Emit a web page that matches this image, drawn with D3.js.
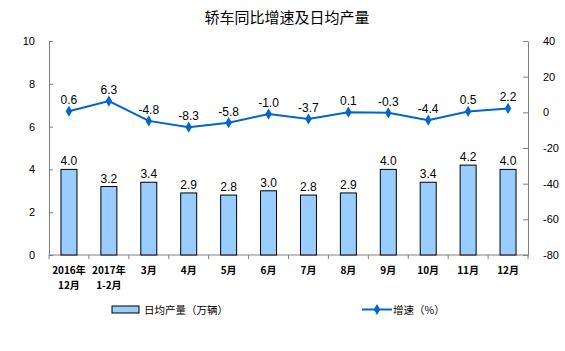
<!DOCTYPE html>
<html>
<head>
<meta charset="utf-8">
<script src="https://cdn.jsdelivr.net/npm/d3@7"></script>
<style>
  body { margin: 0; background: #fff; }
  text { font-family: "Liberation Sans", Arial, sans-serif; }
  .cjk { font-family: "Noto Sans CJK SC", sans-serif; }
</style>
</head>
<body>
<div id="chart"></div>
<script>
var width = 565;
var height = 351;

// data
var months = ["2016年|12月", "2017年|1-2月", "3月", "4月", "5月", "6月", "7月", "8月", "9月", "10月", "11月", "12月"];
var output = [4.0, 3.2, 3.4, 2.9, 2.8, 3.0, 2.8, 2.9, 4.0, 3.4, 4.2, 4.0];
var growth = [0.6, 6.3, -4.8, -8.3, -5.8, -1.0, -3.7, 0.1, -0.3, -4.4, 0.5, 2.2];
var leftTicks = [0, 2, 4, 6, 8, 10];
var rightTicks = [-80, -60, -40, -20, 0, 20, 40];

// plot box (window.top is read-only, so use other names)
var plotL = 49, plotR = 528, plotT = 41, plotB = 255;

var svg = d3.select("#chart")
    .append("svg")
    .attr("width", width)
    .attr("height", height);

var x = d3.scaleBand()
    .domain(d3.range(months.length))
    .range([plotL, plotR]);

var yL = d3.scaleLinear().domain([0, 10]).range([plotB, plotT]);
var yR = d3.scaleLinear().domain([-80, 40]).range([plotB, plotT]);

// plain hyphen minus, like the original
var plain = function(d){ return String(d); };

// title
svg.append("text")
    .attr("class", "cjk")
    .attr("x", 287)
    .attr("y", 23)
    .attr("text-anchor", "middle")
    .attr("font-size", 15)
    .attr("fill", "#000")
    .text("轿车同比增速及日均产量");

// left axis
var gl = svg.append("g")
    .attr("transform", "translate(" + plotL + ",0)")
    .call(d3.axisLeft(yL).tickValues(leftTicks).tickFormat(plain).tickSizeInner(-4).tickSizeOuter(0).tickPadding(14));
gl.select(".domain").attr("stroke", "#808080");
gl.selectAll(".tick line").attr("stroke", "#808080");
gl.selectAll(".tick text").attr("font-size", 11).attr("fill", "#000");

// right axis
var gr = svg.append("g")
    .attr("transform", "translate(" + plotR + ",0)")
    .call(d3.axisRight(yR).tickValues(rightTicks).tickFormat(plain).tickSizeInner(-5).tickSizeOuter(0).tickPadding(15));
gr.select(".domain").attr("stroke", "#808080");
gr.selectAll(".tick line").attr("stroke", "#808080");
gr.selectAll(".tick text").attr("font-size", 11).attr("fill", "#000");

// x axis baseline with boundary ticks
svg.append("line")
    .attr("x1", plotL).attr("x2", plotR)
    .attr("y1", plotB).attr("y2", plotB)
    .attr("stroke", "#808080");

svg.selectAll(".xtick")
    .data(d3.range(months.length + 1))
    .enter()
    .append("line")
    .attr("class", "xtick")
    .attr("x1", function(d){ return plotL + d * x.step(); })
    .attr("x2", function(d){ return plotL + d * x.step(); })
    .attr("y1", plotB)
    .attr("y2", plotB + 4)
    .attr("stroke", "#808080");

// x labels
var xl = svg.selectAll(".xlabel")
    .data(months)
    .enter()
    .append("text")
    .attr("class", "cjk")
    .attr("text-anchor", "middle")
    .attr("font-size", 10)
    .attr("font-weight", "bold")
    .attr("fill", "#000");
xl.each(function(d, i){
    var parts = d.split("|");
    var t = d3.select(this);
    parts.forEach(function(p, j){
        t.append("tspan")
            .attr("x", x(i) + x.bandwidth() / 2)
            .attr("y", 274 + j * 15)
            .text(p);
    });
});

// bars
var barW = 16;
svg.selectAll(".bar")
    .data(output)
    .enter()
    .append("rect")
    .attr("class", "bar")
    .attr("x", function(d, i){ return x(i) + x.bandwidth() / 2 - barW / 2; })
    .attr("y", function(d){ return yL(d); })
    .attr("width", barW)
    .attr("height", function(d){ return plotB - yL(d); })
    .attr("fill", "#99CCFF")
    .attr("stroke", "#000")
    .attr("stroke-width", 1);

svg.selectAll(".barlabel")
    .data(output)
    .enter()
    .append("text")
    .attr("x", function(d, i){ return x(i) + x.bandwidth() / 2; })
    .attr("y", function(d){ return yL(d) - 4; })
    .attr("text-anchor", "middle")
    .attr("font-size", 12)
    .attr("fill", "#000")
    .text(function(d){ return d.toFixed(1); });

// line
var line = d3.line()
    .x(function(d, i){ return x(i) + x.bandwidth() / 2; })
    .y(function(d){ return yR(d); });

svg.append("path")
    .datum(growth)
    .attr("d", line)
    .attr("fill", "none")
    .attr("stroke", "#0066CC")
    .attr("stroke-width", 2);

var diamond = d3.symbol().type(d3.symbolDiamond).size(36);

svg.selectAll(".pt")
    .data(growth)
    .enter()
    .append("path")
    .attr("class", "pt")
    .attr("d", diamond)
    .attr("transform", function(d, i){ return "translate(" + (x(i) + x.bandwidth() / 2) + "," + yR(d) + ")"; })
    .attr("fill", "#0066CC");

svg.selectAll(".ptlabel")
    .data(growth)
    .enter()
    .append("text")
    .attr("x", function(d, i){ return x(i) + x.bandwidth() / 2; })
    .attr("y", function(d){ return yR(d) - 7; })
    .attr("text-anchor", "middle")
    .attr("font-size", 12)
    .attr("fill", "#000")
    .text(function(d){ return d.toFixed(1); });

// legend
svg.append("rect")
    .attr("x", 112).attr("y", 306)
    .attr("width", 27).attr("height", 7)
    .attr("fill", "#99CCFF")
    .attr("stroke", "#000");
svg.append("text")
    .attr("class", "cjk")
    .attr("x", 144).attr("y", 314)
    .attr("font-size", 10.5)
    .attr("fill", "#000")
    .text("日均产量（万辆）");

svg.append("line")
    .attr("x1", 362).attr("x2", 392)
    .attr("y1", 309.5).attr("y2", 309.5)
    .attr("stroke", "#0066CC")
    .attr("stroke-width", 2);
svg.append("path")
    .attr("d", diamond)
    .attr("transform", "translate(377,309.5)")
    .attr("fill", "#0066CC");
svg.append("text")
    .attr("class", "cjk")
    .attr("x", 393).attr("y", 314)
    .attr("font-size", 10.5)
    .attr("fill", "#000")
    .text("增速（%）");
</script>
</body>
</html>
